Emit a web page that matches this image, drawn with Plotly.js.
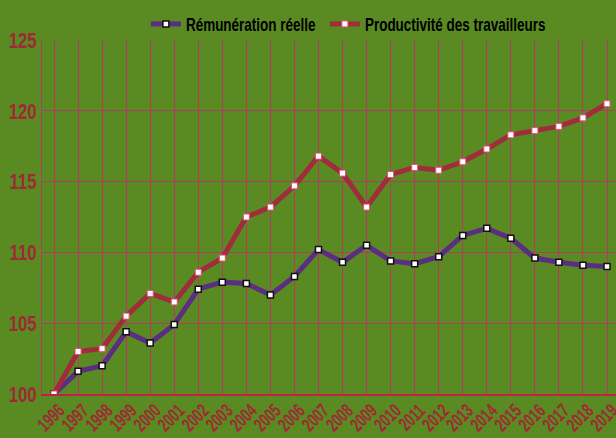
<!DOCTYPE html>
<html>
<head>
<meta charset="utf-8">
<script src="https://cdn.plot.ly/plotly-3.0.1.min.js"></script>
<style>
html,body{margin:0;padding:0;background:#5a8a22;}
#chart{width:616px;height:438px;}
</style>
</head>
<body>
<div id="chart"></div>
<script>
const years = [1996,1997,1998,1999,2000,2001,2002,2003,2004,2005,2006,2007,2008,2009,2010,2011,2012,2013,2014,2015,2016,2017,2018,2019];
const remuneration = [100,101.6,102.0,104.4,103.6,104.9,107.4,107.9,107.8,107.0,108.3,110.2,109.3,110.5,109.4,109.2,109.7,111.2,111.7,111.0,109.6,109.3,109.1,109.0];
const productivite = [100,103.0,103.2,105.5,107.1,106.5,108.6,109.6,112.5,113.2,114.7,116.8,115.6,113.2,115.5,116.0,115.8,116.4,117.3,118.3,118.6,118.9,119.5,120.5];
const yTicks = [100,105,110,115,120,125];
const seriesNames = ['Rémunération réelle','Productivité des travailleurs'];

const FONT = '"Liberation Sans", Arial, sans-serif';

const traces = [
  {
    x: years, y: remuneration, name: seriesNames[0], type: 'scatter', mode: 'lines+markers',
    line: {color: '#5b2d83', width: 5},
    marker: {symbol: 'square', size: 6, color: '#ffffff', line: {color: '#111111', width: 1.5}}
  },
  {
    x: years, y: productivite, name: seriesNames[1], type: 'scatter', mode: 'lines+markers',
    line: {color: '#a02c3c', width: 5},
    marker: {symbol: 'square', size: 6, color: '#ffffff', line: {color: '#e0507a', width: 1}}
  }
];

const layout = {
  width: 616, height: 438,
  paper_bgcolor: '#5a8a22', plot_bgcolor: '#5a8a22',
  margin: {l: 42, r: 0, t: 40, b: 44},
  showlegend: true,
  legend: {
    orientation: 'h', x: 0.181, xanchor: 'left', y: 1.045, yanchor: 'middle',
    font: {family: FONT, size: 19, color: '#000000', weight: 'bold'},
    bgcolor: 'rgba(0,0,0,0)', itemwidth: 30, tracegroupgap: 0,
    entrywidth: 134, entrywidthmode: 'pixels'
  },
  xaxis: {
    range: [1995.5, 2019.374],
    tickmode: 'array', tickvals: years, ticktext: years.map(String),
    tickangle: -45,
    tickfont: {family: FONT, size: 19, color: '#9e2a35', weight: 'bold'},
    ticklabeloverflow: 'allow', ticklabelshift: 5, ticklabelstandoff: -4,
    showgrid: true, gridcolor: '#b43c64', gridwidth: 1,
    showline: true, linecolor: '#c0204a', linewidth: 2,
    zeroline: false, ticks: ''
  },
  yaxis: {
    range: [100, 125],
    tickmode: 'array', tickvals: yTicks, ticktext: yTicks.map(String),
    tickfont: {family: FONT, size: 22, color: '#9e2a35', weight: 'bold'},
    showgrid: true, gridcolor: '#b43c64', gridwidth: 1,
    showline: true, linecolor: '#b43c64', linewidth: 1,
    zeroline: false, ticks: ''
  }
};

// condense the text (the reference uses a narrow display face)
function condense(sel, factor) {
  document.querySelectorAll(sel).forEach(t => {
    const w = t.getComputedTextLength();
    if (w > 0) {
      t.setAttribute('textLength', (w * factor).toFixed(1));
      t.setAttribute('lengthAdjust', 'spacingAndGlyphs');
    }
  });
}

Plotly.newPlot('chart', traces, layout, {displayModeBar: false, staticPlot: true}).then(() => {
  condense('#chart .xtick text', 0.68);
  condense('#chart .ytick text', 0.76);
  condense('#chart .legendtext', 0.71);
  document.querySelectorAll('#chart .legend [clip-path]').forEach(el => el.removeAttribute('clip-path'));
});
</script>
</body>
</html>
